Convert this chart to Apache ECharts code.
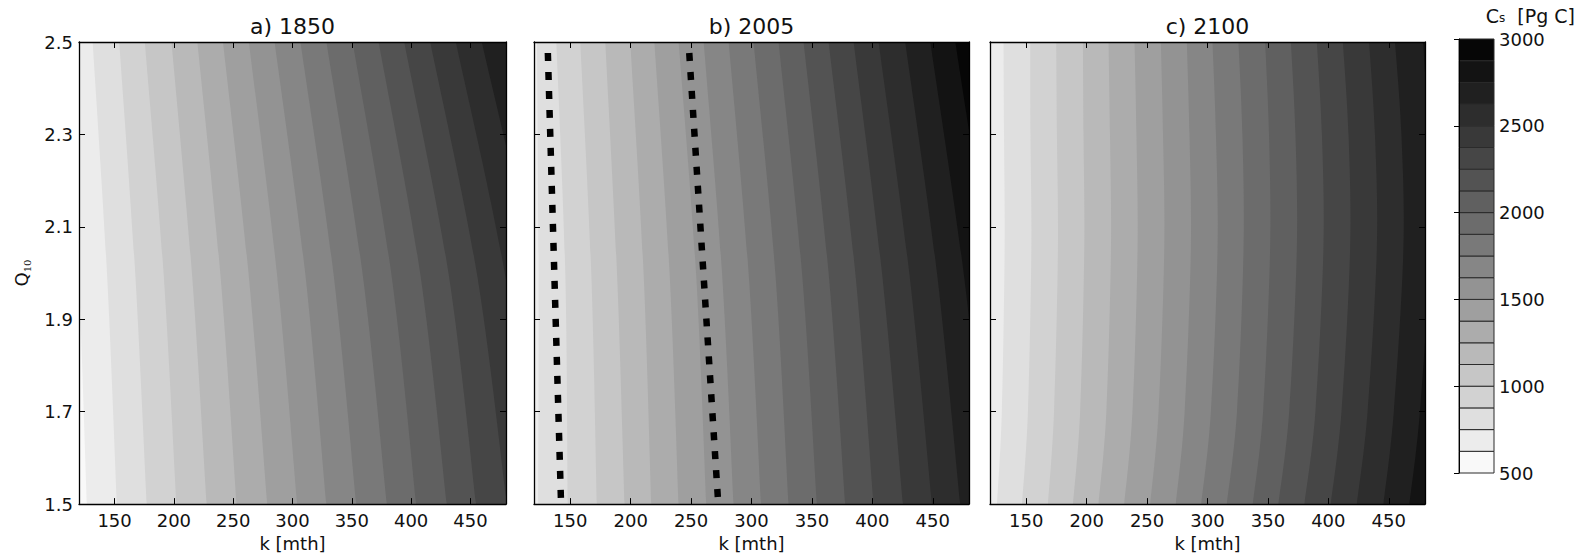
<!DOCTYPE html>
<html><head><meta charset="utf-8">
<script src="https://cdn.jsdelivr.net/npm/echarts@6/dist/echarts.min.js"></script>
<style>html,body{margin:0;padding:0;background:#fff}#c{width:1582px;height:557px}</style>
</head><body><div id="c"></div><script>
// ---- data ----
const titles = ['a) 1850', 'b) 2005', 'c) 2100'];
const kTicks = [150, 200, 250, 300, 350, 400, 450];
const qTicks = [1.5, 1.7, 1.9, 2.1, 2.3, 2.5];
const cbTicks = [500, 1000, 1500, 2000, 2500, 3000];
const cbLevels = [500,625,750,875,1000,1125,1250,1375,1500,1625,1750,1875,2000,2125,2250,2375,2500,2625,2750,2875,3000];

// panel a) 1850 : contour levels and their k positions at Q10 rows
const levelsA = [625,750,875,1000,1125,1250,1375,1500,1625,1750,1875,2000,2125,2250,2375,2500,2625];
const qRowsA = [1.5, 2.0, 2.5];
const kA_15 = [126.7,152.0,177.2,202.2,227.7,252.9,278.7,304.0,328.6,353.8,379.6,404.3,430.1,454.8,480.8,506.1,531.4];
const kA_20 = [119.7,143.6,167.4,191.3,215.2,239.1,262.9,286.8,310.7,334.5,359.0,383.2,407.6,431.5,455.4,479.0,503.0];
const kA_25 = [109.6,131.5,153.9,175.5,198.0,219.8,241.4,263.2,284.9,306.7,328.6,350.7,372.6,394.2,416.1,437.7,459.6];

// panel b) 2005
const levelsB = [750,875,1000,1125,1250,1375,1500,1625,1750,1875,2000,2125,2250,2375,2500,2625,2750,2875];
const qRowsB = [1.5, 2.0, 2.5];
const kB_15 = [123.5,148.0,172.1,195.0,217.1,239.7,262.6,285.2,307.9,330.7,354.2,377.6,401.1,425.4,449.4,472.8,496.0,519.5];
const kB_20 = [123.8,145.9,167.4,188.7,210.7,232.2,254.1,275.6,297.6,319.7,341.8,363.8,385.9,408.0,430.6,453.5,475.6,497.4];
const kB_25 = [122.5,138.5,158.3,179.0,199.7,219.6,239.7,260.4,281.1,301.7,322.4,343.1,363.8,384.5,405.2,427.2,448.0,468.7];
// dashed lines in panel b (k at Q10 = 2.5 and 1.5)
const dashQ = [2.5, 1.5];
const dashK1 = [131.2, 142.4];
const dashK2 = [247.9, 272.5];

// panel c) 2100
const levelsC = [750,875,1000,1125,1250,1375,1500,1625,1750,1875,2000,2125,2250,2375,2500,2625,2750];
const qRowsC = [1.5, 1.7, 2.05, 2.3, 2.5];
const kC_15 = [125.8,146.5,168.0,188.7,209.8,231.1,252.6,273.8,294.8,316.0,337.5,358.7,380.2,402.0,423.6,445.6,467.1];
const kC_17 = [129.8,151.4,173.0,194.6,216.3,237.9,259.5,281.1,302.8,324.4,346.0,367.6,389.3,410.9,432.5,454.2,475.8];
const kC_205 = [132.1,154.2,176.2,198.0,220.1,242.1,264.2,286.2,308.3,329.8,351.8,373.9,395.9,418.0,440.1,462.1,484.0];
const kC_23 = [131.6,153.5,175.4,197.4,219.3,241.2,263.2,285.1,307.0,328.9,350.9,372.8,394.7,416.7,438.6,460.5,482.5];
const kC_25 = [131.2,153.3,174.8,196.9,218.1,239.6,261.4,282.9,304.1,325.6,347.7,369.0,390.5,412.0,433.7,455.2,478.5];

// ---- chart ----
const FONT = 'DejaVu Sans';
const TXT = '#111';
const panels = [
  {levels: levelsA, rows: qRowsA, ks: [kA_15, kA_20, kA_25]},
  {levels: levelsB, rows: qRowsB, ks: [kB_15, kB_20, kB_25]},
  {levels: levelsC, rows: qRowsC, ks: [kC_15, kC_17, kC_205, kC_23, kC_25]}
];
const grids = [
  {left: 79, top: 42, width: 427, height: 463},
  {left: 534, top: 42, width: 435, height: 463},
  {left: 990, top: 42, width: 435, height: 463},
  {left: 1459, top: 39, width: 35, height: 434}
];
const nB = cbLevels.length - 1;
function gray(i) { const v = Math.round(255 * (1 - (i + 0.5) / nB)); return 'rgb(' + v + ',' + v + ',' + v + ')'; }
function bandBelow(L) { return cbLevels.indexOf(L) - 1; }
function f(v) { return v.toFixed(2); }

// smooth (Catmull-Rom) path through the contour points, closed far to the left
function contourPath(pts, leftX) {
  const n = pts.length;
  let d = 'M' + f(pts[0][0]) + ' ' + f(pts[0][1]);
  for (let i = 0; i < n - 1; i++) {
    const p0 = pts[Math.max(i - 1, 0)], p1 = pts[i], p2 = pts[i + 1], p3 = pts[Math.min(i + 2, n - 1)];
    const c1 = [p1[0] + (p2[0] - p0[0]) / 6, p1[1] + (p2[1] - p0[1]) / 6];
    const c2 = [p2[0] - (p3[0] - p1[0]) / 6, p2[1] - (p3[1] - p1[1]) / 6];
    d += 'C' + f(c1[0]) + ' ' + f(c1[1]) + ' ' + f(c2[0]) + ' ' + f(c2[1]) + ' ' + f(p2[0]) + ' ' + f(p2[1]);
  }
  d += 'L' + f(leftX) + ' ' + f(pts[n - 1][1]) + 'L' + f(leftX) + ' ' + f(pts[0][1]) + 'Z';
  return d;
}

function contourSeries(p, panel) {
  const n = panel.levels.length;
  const order = [-1];
  for (let j = n - 1; j >= 0; j--) order.push(j);
  const baseBand = cbLevels.indexOf(panel.levels[n - 1]);
  return {
    type: 'custom', xAxisIndex: 2 * p, yAxisIndex: 2 * p, clip: true, silent: true, z: 2,
    data: order.map(j => [j, 0]),
    renderItem: function (params, api) {
      const cs = params.coordSys;
      const j = order[params.dataIndex];
      if (j < 0) {
        return {type: 'rect', shape: {x: cs.x, y: cs.y, width: cs.width, height: cs.height}, style: {fill: gray(baseBand)}};
      }
      const pts = panel.rows.map((q, r) => api.coord([panel.ks[r][j], q]));
      return {type: 'path', shape: {pathData: contourPath(pts, cs.x - 400)},
        style: {fill: gray(bandBelow(panel.levels[j]))}};
    }
  };
}

const xAxes = [], yAxes = [];
const lineStyle = {color: '#000', width: 1.3};
for (let p = 0; p < 3; p++) {
  xAxes.push({
    gridIndex: p, type: 'value', min: 120, max: 480, position: 'bottom', z: 10,
    axisLine: {show: true, onZero: false, lineStyle: lineStyle},
    axisTick: {show: true, inside: true, length: 6, customValues: kTicks, lineStyle: {color: '#000'}},
    axisLabel: {show: true, customValues: kTicks, fontFamily: FONT, fontSize: 18, color: TXT, margin: 7},
    splitLine: {show: false},
    name: 'k [mth]', nameLocation: 'middle', nameGap: 27,
    nameTextStyle: {fontFamily: FONT, fontSize: 18, color: TXT}
  });
  xAxes.push({
    gridIndex: p, type: 'value', min: 120, max: 480, position: 'top', z: 10,
    axisLine: {show: true, onZero: false, lineStyle: lineStyle},
    axisTick: {show: true, inside: true, length: 6, customValues: kTicks, lineStyle: {color: '#000'}},
    axisLabel: {show: false}, splitLine: {show: false},
    name: titles[p], nameLocation: 'middle', nameGap: 5,
    nameTextStyle: {fontFamily: FONT, fontSize: 22, color: TXT}
  });
  const yl = {
    gridIndex: p, type: 'value', min: 1.5, max: 2.5, position: 'left', z: 10,
    axisLine: {show: true, onZero: false, lineStyle: lineStyle},
    axisTick: {show: true, inside: true, length: 6, customValues: qTicks, lineStyle: {color: '#000'}},
    axisLabel: {show: p === 0, customValues: qTicks, fontFamily: FONT, fontSize: 18, color: TXT, margin: 6,
      formatter: v => Number(v).toFixed(1)},
    splitLine: {show: false}
  };
  if (p === 0) {
    yl.name = '{q|Q}{s|10}';
    yl.nameLocation = 'middle';
    yl.nameGap = 47;
    yl.nameTextStyle = {rich: {
      q: {fontFamily: FONT, fontSize: 18, color: TXT, lineHeight: 20, verticalAlign: 'top'},
      s: {fontFamily: 'DejaVu Serif', fontSize: 10, color: TXT, lineHeight: 12, verticalAlign: 'bottom'}
    }};
  }
  yAxes.push(yl);
  yAxes.push({
    gridIndex: p, type: 'value', min: 1.5, max: 2.5, position: 'right', z: 10,
    axisLine: {show: true, onZero: false, lineStyle: lineStyle},
    axisTick: {show: true, inside: true, length: 6, customValues: qTicks, lineStyle: {color: '#000'}},
    axisLabel: {show: false}, splitLine: {show: false}
  });
}
xAxes.push({gridIndex: 3, type: 'value', min: 0, max: 1, show: false});
yAxes.push({
  gridIndex: 3, type: 'value', min: 500, max: 3000, position: 'right', z: 10,
  axisLine: {show: true, lineStyle: {color: '#000', width: 1}},
  axisTick: {show: true, inside: true, length: 5, customValues: cbTicks, lineStyle: {color: '#000'}},
  axisLabel: {show: true, customValues: cbTicks, fontFamily: FONT, fontSize: 18, color: TXT, margin: 5,
    lineHeight: 18, formatter: v => String(Math.round(v))},
  splitLine: {show: false}
});

const series = panels.map((pn, p) => contourSeries(p, pn));
series.push({
  type: 'custom', xAxisIndex: 6, yAxisIndex: 6, silent: true, z: 2,
  data: cbLevels.slice(0, -1).map(v => [0.5, v]),
  renderItem: function (params, api) {
    const i = params.dataIndex;
    const p1 = api.coord([0, cbLevels[i + 1]]);
    const p2 = api.coord([1, cbLevels[i]]);
    return {type: 'rect', shape: {x: p1[0], y: p1[1], width: p2[0] - p1[0], height: p2[1] - p1[1]},
      style: {fill: gray(i), stroke: '#2b2b2b', lineWidth: 1}};
  }
});
[dashK1, dashK2].forEach(dk => {
  series.push({
    type: 'line', xAxisIndex: 2, yAxisIndex: 2, z: 5, silent: true, symbol: 'none',
    data: dk.map((k, i) => [k, dashQ[i]]),
    lineStyle: {color: '#000', width: 6.5, type: [8, 11], dashOffset: 8, cap: 'butt'}
  });
});

const chart = echarts.init(document.getElementById('c'), null, {renderer: 'svg', width: 1582, height: 557});
chart.setOption({
  animation: false,
  backgroundColor: '#fff',
  title: [{
    text: '{c|C}{s|s}{c|  [Pg C]}', right: 7, top: 6, padding: 0,
    textStyle: {fontWeight: 'normal', rich: {
      c: {fontFamily: FONT, fontSize: 19, fontWeight: 'normal', color: TXT, lineHeight: 18, verticalAlign: 'top'},
      s: {fontFamily: FONT, fontSize: 12, fontWeight: 'normal', color: TXT, lineHeight: 5, verticalAlign: 'bottom'}
    }}
  }],
  grid: grids,
  xAxis: xAxes,
  yAxis: yAxes,
  series: series
});
</script></body></html>
